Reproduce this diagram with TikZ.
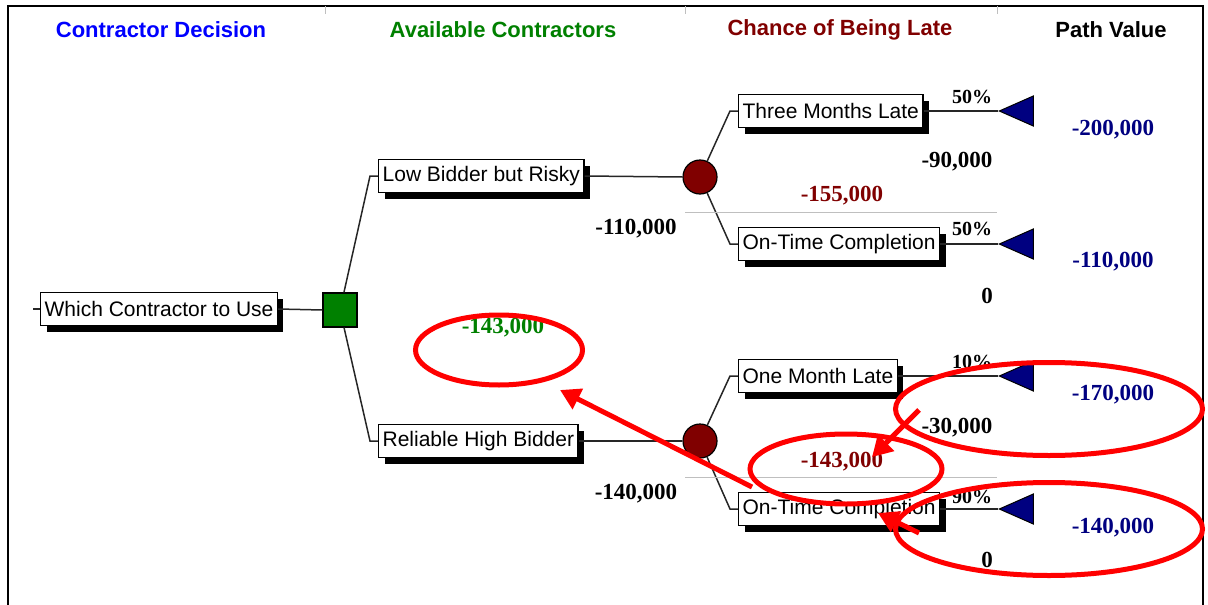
\documentclass[tikz,border=0pt]{standalone}
\usepackage{fontspec}
\setmainfont{Liberation Serif}
\setsansfont{Liberation Sans}
\usetikzlibrary{shapes.geometric,shadows,arrows.meta,positioning}

\definecolor{hdrblue}{RGB}{0,0,255}
\definecolor{hdrgreen}{RGB}{0,128,0}
\definecolor{latered}{RGB}{128,0,0}
\definecolor{pathblue}{RGB}{0,0,128}
\definecolor{callred}{RGB}{255,0,0}

\tikzset{
	hdr/.style={font=\sffamily\bfseries\fontsize{22}{26}\selectfont},
	box/.style={draw, line width=1.3pt, fill=white, anchor=west,
		font=\sffamily\fontsize{21}{25}\selectfont,
		minimum height=33pt, inner xsep=4pt,
		drop shadow={shadow xshift=6pt, shadow yshift=-6pt, fill=black, opacity=1}},
	val/.style={font=\bfseries\fontsize{23}{27}\selectfont},
	pct/.style={font=\bfseries\fontsize{20}{24}\selectfont},
	decision/.style={draw, line width=1.2pt, fill=hdrgreen, minimum size=34pt, inner sep=0pt},
	chance/.style={circle, draw, line width=1.2pt, fill=latered, minimum size=34pt, inner sep=0pt},
	endnode/.style={isosceles triangle, shape border rotate=180, isosceles triangle stretches,
		draw, line width=1pt, fill=pathblue, minimum width=30pt, minimum height=34pt,
		inner sep=0pt, anchor=apex},
	branch/.style={line width=1.5pt, black!85},
	ring/.style={ellipse, draw=callred, line width=5pt, inner sep=0pt},
	pointer/.style={callred, line width=5pt, -{Triangle[length=20pt,width=22pt]}}
}

\begin{document}
\begin{tikzpicture}[x=1pt,y=-1pt]
	\useasboundingbox (0,0) rectangle (1208,605);
	% frame and column ticks
	\draw[line width=2.5pt] (8,605) -- (8,6) -- (1203,6) -- (1203,605);
	\foreach \x in {325,685,997}
		\draw[black!25, line width=1pt] (\x,6) -- (\x,14);
	
	% column headers
	\node[hdr, text=hdrblue] (h1) at (161,30) {Contractor Decision};
	\node[hdr, text=hdrgreen] (h2) at (503,30) {Available Contractors};
	\node[hdr, text=latered] (h3) at (840,30) {Chance of Being Late};
	\node[hdr] (h4) at (1111,30) {Path Value};
	
	% tree nodes
	\node[box] (root) at (40,309) {Which Contractor to Use};
	\node[decision] (dec) at (340,310) {};
	\node[box] (low) at (378,176) {Low Bidder but Risky};
	\node[box] (rel) at (378,441) {Reliable High Bidder};
	\node[chance] (c1) at (700,177) {};
	\node[chance] (c2) at (700,441) {};
	\node[box] (tml) at (738,111) {Three Months Late};
	\node[box] (otc1) at (738,244) {On-Time Completion};
	\node[box] (oml) at (738,376) {One Month Late};
	\node[box] (otc2) at (738,509) {On-Time Completion};
	\node[endnode] (e1) at (998,111) {};
	\node[endnode] (e2) at (998,244) {};
	\node[endnode] (e3) at (998,376) {};
	\node[endnode] (e4) at (998,509) {};
	
	% connectors
	\coordinate (stub) at (33,309);
	\draw[branch] (stub) -- (root.west);
	\draw[branch] (root.east) -- (dec.west);
	\draw[branch] (dec) -- ([xshift=-8pt]low.west) -- (low.west);
	\draw[branch] (dec) -- ([xshift=-8pt]rel.west) -- (rel.west);
	\draw[branch] (low.east) -- (c1.west);
	\draw[branch] (rel.east) -- (c2.west);
	\draw[branch] (c1) -- ([xshift=-8pt]tml.west) -- (tml.west);
	\draw[branch] (c1) -- ([xshift=-8pt]otc1.west) -- (otc1.west);
	\draw[branch] (c2) -- ([xshift=-8pt]oml.west) -- (oml.west);
	\draw[branch] (c2) -- ([xshift=-8pt]otc2.west) -- (otc2.west);
	\draw[branch] (tml.east) -- (e1.apex);
	\draw[branch] (otc1.east) -- (e2.apex);
	\draw[branch] (oml.east) -- (e3.apex);
	\draw[branch] (otc2.east) -- (e4.apex);
	
	% separators
	\draw[black!25, line width=1pt] (685,212) -- (997,212);
	\draw[black!25, line width=1pt] (685,477) -- (997,477);
	
	% values
	\node[pct] (p1) at (972,97) {50\%};
	\node[val] (v1) at (957,162) {-90,000};
	\node[val, text=latered] (ev1) at (842,196) {-155,000};
	\node[val] (cost1) at (636,229) {-110,000};
	\node[pct] (p2) at (972,229) {50\%};
	\node[val] (v2) at (987,296) {0};
	\node[val, text=hdrgreen] (ev0) at (503,328) {-143,000};
	\node[pct] (p3) at (972,362) {10\%};
	\node[val] (v3) at (957,428) {-30,000};
	\node[val, text=latered] (ev2) at (842,462) {-143,000};
	\node[val] (cost2) at (636,494) {-140,000};
	\node[pct] (p4) at (972,497) {90\%};
	\node[val] (v4) at (987,560) {0};
	\node[val, text=pathblue] (pv1) at (1113,130) {-200,000};
	\node[val, text=pathblue] (pv2) at (1113,262) {-110,000};
	\node[val, text=pathblue] (pv3) at (1113,395) {-170,000};
	\node[val, text=pathblue] (pv4) at (1113,528) {-140,000};
	
	% red call-outs
	\node[ring, minimum width=167pt, minimum height=70pt] (ring1) at (499,350) {};
	\node[ring, minimum width=192pt, minimum height=70pt] (ring2) at (846,469) {};
	\node[ring, minimum width=307pt, minimum height=93pt] (ring3) at (1049,409) {};
	\node[ring, minimum width=307pt, minimum height=93pt] (ring4) at (1049,529) {};
	\coordinate (a1s) at (752,487);
	\coordinate (a1e) at (560,390);
	\coordinate (a2s) at (919,410);
	\coordinate (a2e) at (872,457);
	\coordinate (a3s) at (919,533);
	\coordinate (a3e) at (878,513);
	\draw[pointer] (a1s) -- (a1e);
	\draw[pointer] (a2s) -- (a2e);
	\draw[pointer] (a3s) -- (a3e);
\end{tikzpicture}
\end{document}
